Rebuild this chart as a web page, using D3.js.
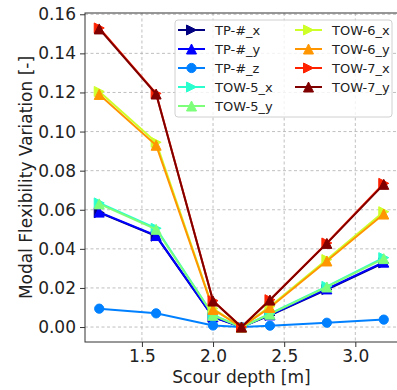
<!DOCTYPE html>
<html>
<head>
<meta charset="utf-8">
<script src="https://cdn.jsdelivr.net/npm/d3@7"></script>
<style>
  body { margin: 0; background: #fff; }
  svg { display: block; font-family: "DejaVu Sans", sans-serif; }
</style>
</head>
<body>
<div id="chart"></div>
<script>
// Scour depths and modal flexibility variation per sensor/direction
const scourDepth = [1.2, 1.6, 2.0, 2.2, 2.4, 2.8, 3.2];

const tpX   = [0.0585, 0.0465, 0.0050, 0, 0.0060, 0.0192, 0.0328];
const tpY   = [0.0588, 0.0468, 0.0052, 0, 0.0062, 0.0195, 0.0332];
const tpZ   = [0.0094, 0.0070, 0.0008, 0, 0.0007, 0.0022, 0.0038];
const tow5X = [0.0635, 0.0505, 0.0062, 0, 0.0068, 0.0208, 0.0355];
const tow5Y = [0.0630, 0.0500, 0.0060, 0, 0.0066, 0.0205, 0.0350];
const tow6X = [0.1205, 0.0945, 0.0095, 0, 0.0105, 0.0345, 0.0590];
const tow6Y = [0.1190, 0.0930, 0.0090, 0, 0.0100, 0.0338, 0.0578];
const tow7X = [0.1530, 0.1195, 0.0135, 0, 0.0140, 0.0430, 0.0735];
const tow7Y = [0.1525, 0.1192, 0.0133, 0, 0.0138, 0.0428, 0.0730];

const seriesNames  = ["TP-#_x", "TP-#_y", "TP-#_z", "TOW-5_x", "TOW-5_y", "TOW-6_x", "TOW-6_y", "TOW-7_x", "TOW-7_y"];
const seriesValues = [tpX, tpY, tpZ, tow5X, tow5Y, tow6X, tow6Y, tow7X, tow7Y];
const seriesMarker = [">", "^", "o", ">", "^", ">", "^", ">", "^"];
// jet colormap sampled at 9 points
const seriesColor  = ["#000080", "#0000ff", "#0080ff", "#29ffce", "#7dff7a", "#ceff29", "#ff9600", "#ff2200", "#800000"];

const xTicks = [1.5, 2.0, 2.5, 3.0];
const yTicks = [0.00, 0.02, 0.04, 0.06, 0.08, 0.10, 0.12, 0.14, 0.16];

const width = 397, height = 390;
const plotLeft = 85, plotTop = 13, plotRight = 398, plotBottom = 342;

const svg = d3.select("#chart").append("svg")
    .attr("width", width)
    .attr("height", height);

const x = d3.scaleLinear().domain([1.1, 3.3]).range([plotLeft, plotRight]);
const y = d3.scaleLinear().domain([-0.00765, 0.16065]).range([plotBottom, plotTop]);

// grid
const grid = svg.append("g").attr("stroke", "#b0b0b0").attr("stroke-width", 0.8)
    .attr("stroke-dasharray", "3,2.5");
grid.selectAll(".gx").data(xTicks).enter().append("line")
    .attr("x1", d => x(d)).attr("x2", d => x(d))
    .attr("y1", plotTop).attr("y2", plotBottom);
grid.selectAll(".gy").data(yTicks).enter().append("line")
    .attr("x1", plotLeft).attr("x2", plotRight)
    .attr("y1", d => y(d)).attr("y2", d => y(d));

// axes
const xAxis = svg.append("g")
    .attr("transform", `translate(0,${plotBottom})`)
    .call(d3.axisBottom(x).tickValues(xTicks).tickFormat(d3.format(".1f")).tickSize(5).tickPadding(3));
const yAxis = svg.append("g")
    .attr("transform", `translate(${plotLeft},0)`)
    .call(d3.axisLeft(y).tickValues(yTicks).tickFormat(d3.format(".2f")).tickSize(5).tickPadding(4));
[xAxis, yAxis].forEach(a => {
    a.select(".domain").remove();
    a.selectAll("line").attr("stroke", "#333");
    a.selectAll("text").attr("fill", "#222").style("font-size", "17px").style("font-family", "DejaVu Sans");
});

// spines
svg.append("rect")
    .attr("x", plotLeft).attr("y", plotTop)
    .attr("width", plotRight - plotLeft).attr("height", plotBottom - plotTop)
    .attr("fill", "none").attr("stroke", "#333").attr("stroke-width", 1);

// axis labels
svg.append("text")
    .attr("x", (plotLeft + plotRight) / 2).attr("y", 383)
    .attr("text-anchor", "middle").attr("fill", "#222")
    .style("font-size", "17px")
    .text("Scour depth [m]");
svg.append("text")
    .attr("transform", `translate(32,${(plotTop + plotBottom) / 2}) rotate(-90)`)
    .attr("text-anchor", "middle").attr("fill", "#222")
    .style("font-size", "17px")
    .text("Modal Flexibility Variation [-]");

// marker path builder (matplotlib-like shapes)
const ms = 10;
function markerPath(m) {
    const s = ms / 2;
    if (m === "^") return `M0,${-s}L${-s},${s}L${s},${s}Z`;
    if (m === ">") return `M${s},0L${-s},${-s}L${-s},${s}Z`;
    return d3.symbol(d3.symbolCircle, Math.PI * s * s * 0.85)();
}

const line = d3.line().x(d => x(d[0])).y(d => y(d[1]));

const plot = svg.append("g");
seriesNames.forEach((name, i) => {
    const pts = scourDepth.map((d, j) => [d, seriesValues[i][j]]);
    const g = plot.append("g");
    g.append("path")
        .attr("d", line(pts))
        .attr("fill", "none")
        .attr("stroke", seriesColor[i])
        .attr("stroke-width", 2);
    g.selectAll("path.m").data(pts).enter().append("path")
        .attr("class", "m")
        .attr("d", markerPath(seriesMarker[i]))
        .attr("transform", d => `translate(${x(d[0])},${y(d[1])})`)
        .attr("fill", seriesColor[i])
        .attr("stroke", seriesColor[i])
        .attr("stroke-width", 1);
});

// legend
const legend = svg.append("g");
legend.append("rect")
    .attr("x", 175).attr("y", 20)
    .attr("width", 217).attr("height", 97)
    .attr("rx", 3)
    .attr("fill", "#fff").attr("fill-opacity", 0.8)
    .attr("stroke", "#d0d0d0").attr("stroke-width", 1);

const rowH = 19;
seriesNames.forEach((name, i) => {
    const col = i < 5 ? 0 : 1;
    const row = i < 5 ? i : i - 5;
    const hx = col === 0 ? 178 : 295;
    const hy = 30 + row * rowH;
    const item = legend.append("g");
    item.append("line")
        .attr("x1", hx).attr("x2", hx + 27)
        .attr("y1", hy).attr("y2", hy)
        .attr("stroke", seriesColor[i]).attr("stroke-width", 2);
    item.append("path")
        .attr("d", markerPath(seriesMarker[i]))
        .attr("transform", `translate(${hx + 13.5},${hy})`)
        .attr("fill", seriesColor[i])
        .attr("stroke", seriesColor[i]).attr("stroke-width", 1);
    item.append("text")
        .attr("x", hx + 37).attr("y", hy)
        .attr("dy", "0.36em")
        .attr("fill", "#222")
        .style("font-size", "13px")
        .text(name);
});
</script>
</body>
</html>
